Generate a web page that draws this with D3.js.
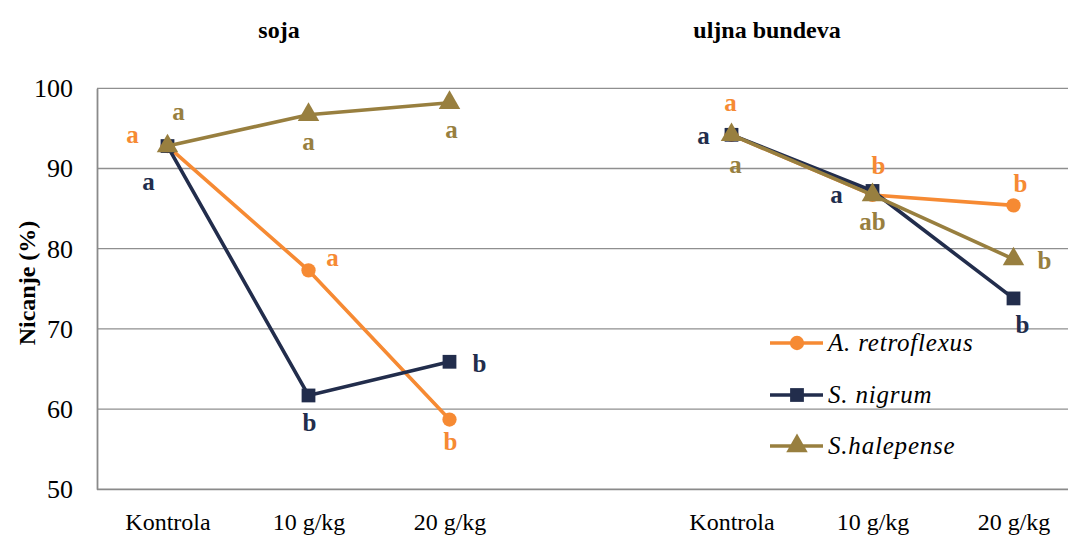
<!DOCTYPE html>
<html>
<head>
<meta charset="utf-8">
<script src="https://cdn.jsdelivr.net/npm/d3@7"></script>
</head>
<body style="margin:0">
<svg id="chart" width="1068" height="539"></svg>
<script>
// categories along the x axis (blank slot separates the two crops)
const categories = ['Kontrola', '10 g/kg', '20 g/kg', '', 'Kontrola ', '10 g/kg ', '20 g/kg '];
const sojaCats = ['Kontrola', '10 g/kg', '20 g/kg'];
const bundevaCats = ['Kontrola ', '10 g/kg ', '20 g/kg '];
const yTicks = [50, 60, 70, 80, 90, 100];

// emergence (%) per weed species
const sojaRetro = [92.8, 77.3, 58.7];
const sojaNigrum = [92.8, 61.7, 65.9];
const sojaHalep = [92.8, 96.7, 98.2];
const bundevaRetro = [94.2, 86.7, 85.4];
const bundevaNigrum = [94.2, 87.2, 73.8];
const bundevaHalep = [94.2, 86.7, 78.7];

// significance letters
const sojaRetroSig = ['a', 'a', 'b'];
const sojaNigrumSig = ['a', 'b', 'b'];
const sojaHalepSig = ['a', 'a', 'a'];
const bundevaRetroSig = ['a', 'b', 'b'];
const bundevaNigrumSig = ['a', 'a', 'b'];
const bundevaHalepSig = ['a', 'ab', 'b'];

const speciesNames = ['A. retroflexus', 'S. nigrum', 'S.halepense'];
const colors = ['#F68A33', '#222D4C', '#987F3F'];
const symbols = [d3.symbolCircle, d3.symbolSquare, d3.symbolTriangle];
const symbolSizes = [160, 190, 200];
const FONT = 'Liberation Serif';

const svg = d3.select('#chart');
const margin = { left: 97, top: 88.3, bottom: 489.3 };

const x = d3.scalePoint()
  .domain(categories)
  .range([margin.left + 70.5, margin.left + 70.5 + 141 * 6]);

const y = d3.scaleLinear().domain([50, 100]).range([margin.bottom, margin.top]);

// gridlines
svg.append('g')
  .selectAll('line')
  .data(yTicks.filter(t => t > 50))
  .enter()
  .append('line')
  .attr('x1', margin.left).attr('x2', 1068)
  .attr('y1', d => y(d)).attr('y2', d => y(d))
  .attr('stroke', '#8f8f8f').attr('stroke-width', 1.3);

// y axis
const yAxis = svg.append('g')
  .attr('transform', `translate(${margin.left},0)`)
  .call(d3.axisLeft(y).tickValues(yTicks).tickSize(0).tickPadding(24))
  .attr('font-family', FONT).attr('font-size', 26);
yAxis.select('.domain').attr('stroke', '#8a8a8a').attr('stroke-width', 1.8);
yAxis.selectAll('text').attr('fill', '#000');

// x axis
const xAxis = svg.append('g')
  .attr('transform', `translate(0,${margin.bottom})`)
  .call(d3.axisBottom(x).tickSize(0).tickPadding(24))
  .attr('font-family', FONT).attr('font-size', 24);
xAxis.select('.domain').attr('d', `M${margin.left},0H1068`)
  .attr('stroke', '#8a8a8a').attr('stroke-width', 1.8);
xAxis.selectAll('text').attr('fill', '#000');

// axis title
svg.append('text')
  .attr('transform', 'translate(35,283) rotate(-90)')
  .attr('text-anchor', 'middle')
  .attr('font-family', FONT).attr('font-size', 24).attr('font-weight', 'bold')
  .text('Nicanje (%)');

// panel titles
svg.append('text').attr('x', 279).attr('y', 38)
  .attr('text-anchor', 'middle')
  .attr('font-family', FONT).attr('font-size', 24).attr('font-weight', 'bold')
  .text('soja');
svg.append('text').attr('x', 767).attr('y', 38)
  .attr('text-anchor', 'middle')
  .attr('font-family', FONT).attr('font-size', 24).attr('font-weight', 'bold')
  .text('uljna bundeva');

const line = d3.line().x(d => x(d.cat)).y(d => y(d.v));

const panels = [
  { cats: sojaCats, series: [sojaRetro, sojaNigrum, sojaHalep], sig: [sojaRetroSig, sojaNigrumSig, sojaHalepSig],
    // label offsets [dx, dy] per series per category
    off: [[[-35, -11], [24, -12], [1, 23]], [[-19, 36], [1, 28], [30, 3]], [[11, -34], [0, 28], [2, 28]]] },
  { cats: bundevaCats, series: [bundevaRetro, bundevaNigrum, bundevaHalep], sig: [bundevaRetroSig, bundevaNigrumSig, bundevaHalepSig],
    off: [[[-1, -31], [6, -28], [7, -21]], [[-28, 2], [-36, 5], [9, 27]], [[4, 31], [0, 28], [31, 2]]] }
];

// draw order: retroflexus, nigrum, halepense (halepense on top)
panels.forEach(p => {
  p.series.forEach((vals, si) => {
    const pts = vals.map((v, i) => ({ cat: p.cats[i], v }));
    svg.append('path')
      .datum(pts)
      .attr('d', line)
      .attr('fill', 'none')
      .attr('stroke', colors[si])
      .attr('stroke-width', 3.6);
    svg.append('g')
      .selectAll('path')
      .data(pts)
      .enter()
      .append('path')
      .attr('d', d3.symbol().type(symbols[si]).size(symbolSizes[si]))
      .attr('transform', d => `translate(${x(d.cat)},${y(d.v)})`)
      .attr('fill', colors[si]);
  });
  p.series.forEach((vals, si) => {
    svg.append('g')
      .selectAll('text')
      .data(vals)
      .enter()
      .append('text')
      .attr('x', (d, i) => x(p.cats[i]) + p.off[si][i][0])
      .attr('y', (d, i) => y(d) + p.off[si][i][1])
      .attr('dy', '0.3em')
      .attr('text-anchor', 'middle')
      .attr('font-family', FONT).attr('font-size', 25).attr('font-weight', 'bold')
      .attr('fill', colors[si])
      .text((d, i) => p.sig[si][i]);
  });
});

// legend
const legendYs = [343, 395, 446];
const legend = svg.append('g')
  .selectAll('g')
  .data(speciesNames)
  .enter()
  .append('g')
  .attr('transform', (d, i) => `translate(770,${legendYs[i]})`);
legend.append('line')
  .attr('x1', 0).attr('x2', 53)
  .attr('stroke', (d, i) => colors[i]).attr('stroke-width', 3.6);
legend.append('path')
  .attr('d', (d, i) => d3.symbol().type(symbols[i]).size(symbolSizes[i])())
  .attr('transform', 'translate(27,0)')
  .attr('fill', (d, i) => colors[i]);
legend.append('text')
  .attr('x', 58).attr('dy', '0.32em')
  .attr('font-family', FONT).attr('font-size', 25).attr('font-style', 'italic')
  .attr('letter-spacing', 0.8)
  .text(d => d);
</script>
</body>
</html>
